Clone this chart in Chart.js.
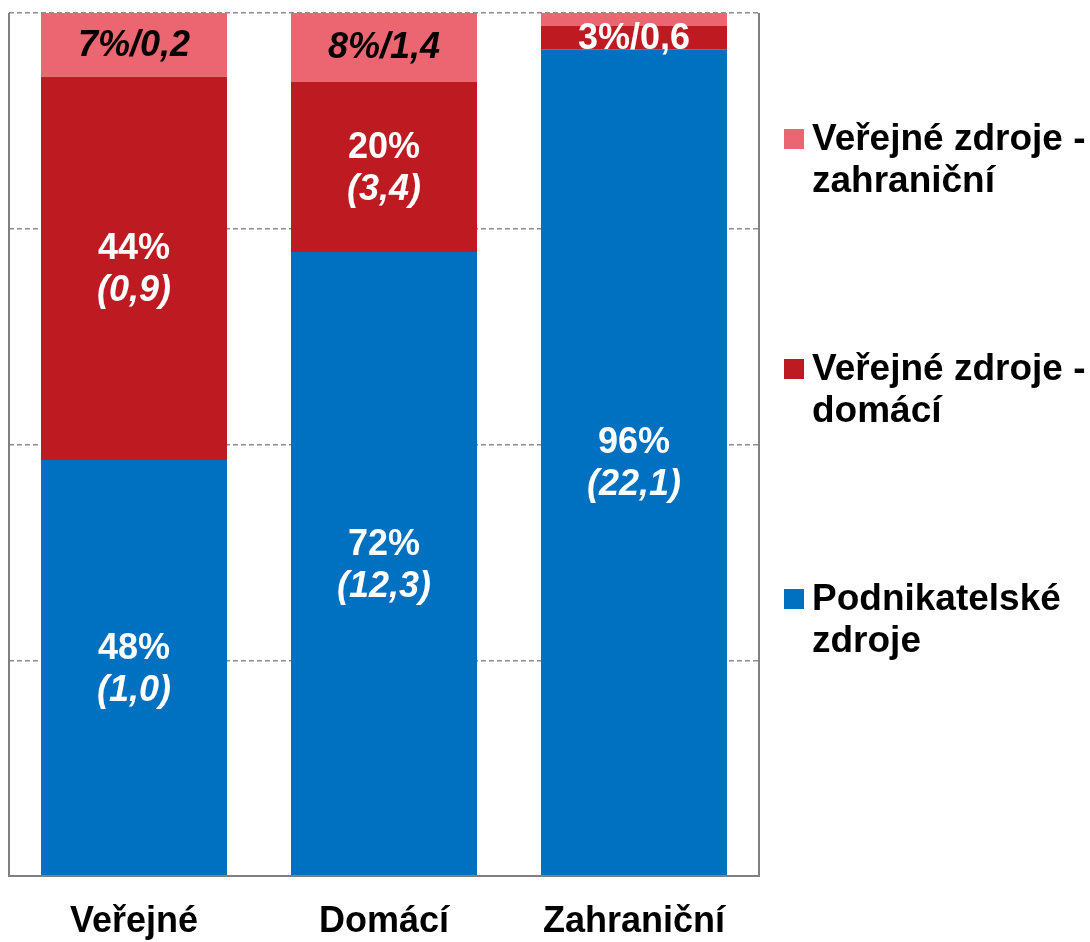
<!DOCTYPE html>
<html lang="cs">
<head>
<meta charset="utf-8">
<title>Zdroje financování</title>
<script src="https://cdn.jsdelivr.net/npm/chart.js@4"></script>
<style>
    html, body { margin: 0; padding: 0; background: #fff; }
    #wrap { position: relative; width: 1090px; height: 942px; }
    #legend { position: absolute; left: 784px; top: 0; font: bold 37px Arial, "Liberation Sans", Helvetica, sans-serif; color: #000; }
    .item { position: absolute; left: 0; width: 306px; }
    .box { position: absolute; left: 0; width: 20px; height: 20px; }
    .txt { position: absolute; left: 28px; line-height: 42px; white-space: nowrap; }
</style>
</head>
<body>
<div id="wrap">
    <canvas id="fundChart" width="1090" height="942"></canvas>
    <div id="legend"></div>
</div>
<script>
const categories = ['Veřejné', 'Domácí', 'Zahraniční'];

// podíly v % (výška segmentů)
const sharePodnikatelske = [48.2, 72.3, 95.8];
const shareDomaci = [44.4, 19.7, 2.7];
const shareZahranicni = [7.4, 8.0, 1.5];

// objemy v mld. Kč (popisky)
const amountPodnikatelske = [1.0, 12.3, 22.1];
const amountDomaci = [0.9, 3.4, 0.6];
const amountZahranicni = [0.2, 1.4, 0.3];

const seriesNames = ['Podnikatelské zdroje', 'Veřejné zdroje - domácí', 'Veřejné zdroje - zahraniční'];
const legendLines = [['Podnikatelské', 'zdroje'], ['Veřejné zdroje -', 'domácí'], ['Veřejné zdroje -', 'zahraniční']];

document.addEventListener("DOMContentLoaded", () => {
    const FONT = 'Arial, "Liberation Sans", Helvetica, sans-serif';
    Chart.defaults.font.family = FONT;

    const colors = ['#0070C0', '#BE1A22', '#EB6670'];
    const amounts = [amountPodnikatelske, amountDomaci, amountZahranicni];
    const fmt = v => v.toFixed(1).replace('.', ',');

    // popisky segmentů
    const segmentLabels = {
        id: 'segmentLabels',
        afterDatasetsDraw(chart) {
            const ctx = chart.ctx;
            ctx.save();
            ctx.textAlign = 'center';
            ctx.textBaseline = 'middle';
            chart.data.datasets.forEach((ds, i) => {
                const meta = chart.getDatasetMeta(i);
                meta.data.forEach((bar, j) => {
                    const h = bar.base - bar.y;
                    const cy = bar.y + h / 2;
                    const pct = Math.round(ds.data[j]) + '%';
                    const amt = fmt(amounts[i][j]);
                    if (h > 100) {
                        ctx.fillStyle = '#fff';
                        ctx.font = 'bold 36px ' + FONT;
                        ctx.fillText(pct, bar.x, cy - 19);
                        ctx.font = 'italic bold 36px ' + FONT;
                        ctx.fillText('(' + amt + ')', bar.x, cy + 23);
                    } else if (h > 20) {
                        const light = i === 2;
                        ctx.fillStyle = light ? '#000' : '#fff';
                        ctx.font = (light ? 'italic ' : '') + 'bold 36px ' + FONT;
                        ctx.fillText(pct + '/' + amt, bar.x, cy + 1);
                    }
                });
            });
            ctx.restore();
        }
    };

    // rámeček grafu (vlevo, vpravo, dole)
    const frame = {
        id: 'frame',
        afterDraw(chart) {
            const { left, right, top, bottom } = chart.chartArea;
            const ctx = chart.ctx;
            ctx.save();
            ctx.strokeStyle = '#808080';
            ctx.lineWidth = 2;
            ctx.beginPath();
            ctx.moveTo(left, top);
            ctx.lineTo(left, bottom);
            ctx.lineTo(right, bottom);
            ctx.lineTo(right, top);
            ctx.stroke();
            ctx.restore();
        }
    };

    new Chart(document.getElementById('fundChart'), {
        type: 'bar',
        data: {
            labels: categories,
            datasets: [
                { label: seriesNames[0], data: sharePodnikatelske, backgroundColor: colors[0] },
                { label: seriesNames[1], data: shareDomaci, backgroundColor: colors[1] },
                { label: seriesNames[2], data: shareZahranicni, backgroundColor: colors[2] }
            ]
        },
        options: {
            responsive: false,
            animation: false,
            layout: { padding: { left: 9, top: 13, right: 331, bottom: 0 } },
            datasets: { bar: { categoryPercentage: 1, barPercentage: 0.744, borderWidth: 0 } },
            plugins: { legend: { display: false }, tooltip: { enabled: false } },
            scales: {
                x: {
                    stacked: true,
                    grid: { display: false, drawTicks: false },
                    border: { display: false },
                    ticks: { color: '#000', font: { size: 36, weight: 'bold' }, padding: 24 },
                    afterFit: s => { s.height = 66; }
                },
                y: {
                    stacked: true,
                    min: 0,
                    max: 100,
                    ticks: { display: false, stepSize: 25 },
                    grid: { color: '#8c8c8c', lineWidth: 1.5, drawTicks: false },
                    border: { display: false, dash: [5, 3] },
                    afterFit: s => { s.width = 0; }
                }
            }
        },
        plugins: [segmentLabels, frame]
    });

    // legenda vpravo, v obráceném pořadí
    const legend = document.getElementById('legend');
    const tops = [577, 347, 117];
    [2, 1, 0].forEach(i => {
        const item = document.createElement('div');
        item.className = 'item';
        item.style.top = tops[i] + 'px';
        item.innerHTML = '<div class="box" style="top:12px;background:' + colors[i] + '"></div>' +
            '<div class="txt">' + legendLines[i].join('<br>') + '</div>';
        legend.appendChild(item);
    });
});
</script>
</body>
</html>
